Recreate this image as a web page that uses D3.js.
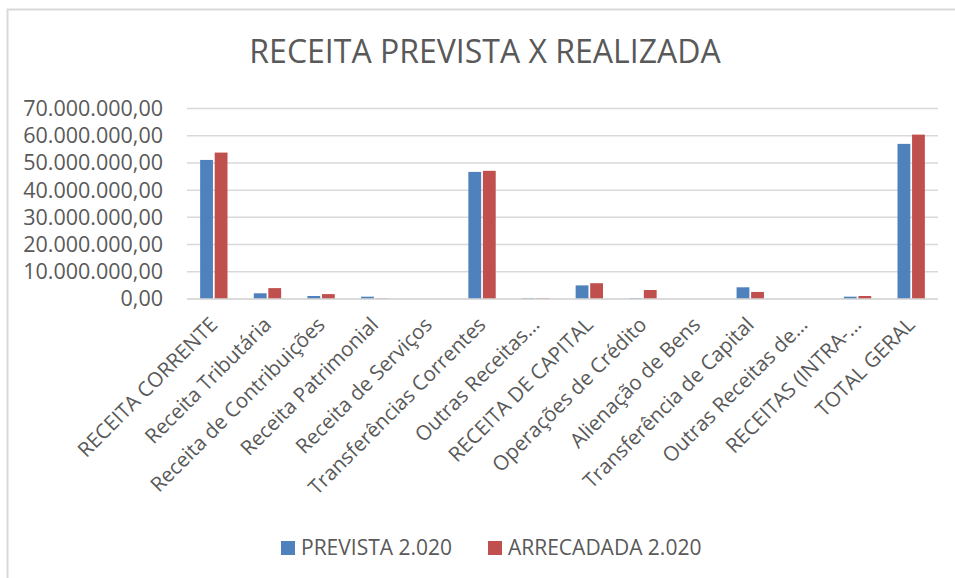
<!DOCTYPE html>
<html>
<head>
<meta charset="utf-8">
<script src="https://cdn.jsdelivr.net/npm/d3@7"></script>
<style>
  body { margin: 0; background: #fff; }
  svg text { font-family: "Open Sans", sans-serif; fill: #595959; }
</style>
</head>
<body>
<div id="chart"></div>
<script>
"use strict";

var categories = [
  "RECEITA CORRENTE", "Receita Tributária", "Receita de Contribuições",
  "Receita Patrimonial", "Receita de Serviços", "Transferências Correntes",
  "Outras Receitas…", "RECEITA DE CAPITAL", "Operações de Crédito",
  "Alienação de Bens", "Transferência de Capital", "Outras Receitas de…",
  "RECEITAS (INTRA-…", "TOTAL GERAL"
];
var seriesNames = ["PREVISTA 2.020", "ARRECADADA 2.020"];
var prevista   = [51100000, 2100000, 1100000, 850000, 0, 46700000, 300000, 5000000, 300000, 0, 4300000, 0, 850000, 57000000];
var arrecadada = [53800000, 4000000, 1800000, 200000, 0, 47100000, 300000, 5800000, 3300000, 0, 2600000, 0, 1100000, 60400000];
var yTicks = [0, 10000000, 20000000, 30000000, 40000000, 50000000, 60000000, 70000000];
var colors = ["#4F81BD", "#C0504D"];

var W = 955, H = 578;
var margin = { top: 108.5, right: 17, bottom: 279, left: 187 };

var svg = d3.select("#chart").append("svg")
  .attr("width", W).attr("height", H);

// chart area border
svg.append("rect")
  .attr("x", 7.5).attr("y", 9.5)
  .attr("width", W + 10).attr("height", H + 10)
  .attr("fill", "none").attr("stroke", "#d9d9d9").attr("stroke-width", 2);

svg.append("text")
  .attr("x", 485).attr("y", 63)
  .attr("text-anchor", "middle")
  .style("font-size", "32px")
  .text("RECEITA PREVISTA X REALIZADA");

var x = d3.scaleBand()
  .domain(categories)
  .range([margin.left, W - margin.right]);

var y = d3.scaleLinear()
  .domain([0, 70000000])
  .range([H - margin.bottom, margin.top]);

var fmt = function (v) {
  return d3.format(",.2f")(v).replace(/,/g, "#").replace(".", ",").replace(/#/g, ".");
};

// gridlines
svg.append("g")
  .selectAll("line")
  .data(yTicks)
  .enter().append("line")
  .attr("x1", margin.left).attr("x2", W - margin.right)
  .attr("y1", function (d) { return y(d); })
  .attr("y2", function (d) { return y(d); })
  .attr("stroke", "#d9d9d9").attr("stroke-width", 1.5);

var yAxis = d3.axisLeft(y).tickValues(yTicks).tickFormat(fmt).tickSize(0).tickPadding(0);
var yg = svg.append("g")
  .attr("transform", "translate(163,0)")
  .call(yAxis);
yg.select(".domain").remove();
yg.selectAll("text").style("font-size", "21.5px").attr("fill", "#595959");

var sub = d3.scaleBand()
  .domain(seriesNames)
  .range([x.bandwidth() * 0.245, x.bandwidth() * 0.755])
  .paddingInner(0.12);

var table = categories.map(function (c, i) {
  return { cat: c, values: [prevista[i], arrecadada[i]] };
});

var groups = svg.append("g").selectAll("g")
  .data(table)
  .enter().append("g")
  .attr("transform", function (d) { return "translate(" + x(d.cat) + ",0)"; });

groups.selectAll("rect")
  .data(function (d) { return d.values.map(function (v, k) { return { s: seriesNames[k], v: v, k: k }; }); })
  .enter().append("rect")
  .attr("x", function (d) { return sub(d.s); })
  .attr("width", sub.bandwidth())
  .attr("y", function (d) { return y(d.v); })
  .attr("height", function (d) { return y(0) - y(d.v); })
  .attr("fill", function (d) { return colors[d.k]; });

// baseline
svg.append("line")
  .attr("x1", margin.left).attr("x2", W - margin.right)
  .attr("y1", y(0)).attr("y2", y(0))
  .attr("stroke", "#d9d9d9").attr("stroke-width", 1.5);

// category labels, rotated
var xAxis = d3.axisBottom(x).tickSize(0).tickPadding(0);
var xg = svg.append("g")
  .attr("transform", "translate(0," + y(0) + ")")
  .call(xAxis);
xg.select(".domain").remove();
xg.selectAll("text")
  .style("font-size", "20.5px")
  .attr("fill", "#595959")
  .attr("text-anchor", "end")
  .attr("dy", null)
  .attr("y", 0)
  .attr("transform", "translate(5,27) rotate(-45)");

// legend
var legend = svg.append("g").selectAll("g")
  .data(seriesNames)
  .enter().append("g")
  .attr("transform", function (d, i) { return "translate(" + (281 + i * 207) + ",541)"; });
legend.append("rect")
  .attr("width", 14).attr("height", 14)
  .attr("fill", function (d, i) { return colors[i]; });
legend.append("text")
  .attr("x", 20).attr("y", 14)
  .style("font-size", "21px")
  .text(function (d) { return d; });
</script>
</body>
</html>
